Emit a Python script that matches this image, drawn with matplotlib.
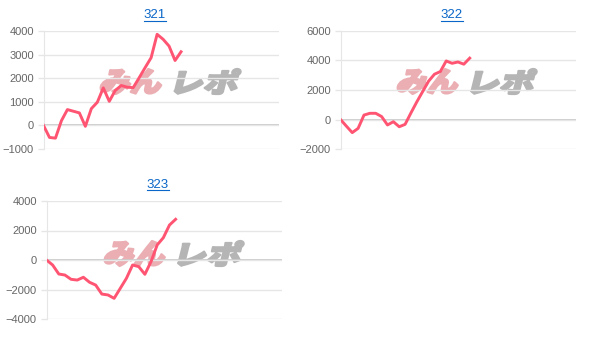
import numpy as np
import matplotlib
matplotlib.use("Agg")
import matplotlib.pyplot as plt
from matplotlib.textpath import TextPath
from matplotlib.font_manager import FontProperties
from matplotlib.patches import PathPatch
from matplotlib.lines import Line2D
from matplotlib.transforms import Affine2D, IdentityTransform

W, H = 603, 344

plt.rcParams['font.family'] = ['Liberation Sans', 'DejaVu Sans']

# chart titles and per-chart values (cumulative difference per data point)
titles = ["321", "322", "323"]

vals_321 = [0, -510, -540, 200, 670, 600, 530, -40, 710, 980, 1590, 1020,
            1480, 1690, 1620, 1600, 2020, 2450, 2870, 3860, 3650, 3360,
            2750, 3120]
vals_322 = [0, -450, -890, -600, 300, 420, 420, 200, -370, -150, -490, -330,
            450, 1200, 1900, 2600, 3070, 3250, 3970, 3810, 3900, 3750, 4160]
vals_323 = [0, -340, -950, -1020, -1310, -1360, -1170, -1510, -1700, -2310,
            -2370, -2600, -1920, -1240, -340, -450, -970, -110, 1020, 1510,
            2370, 2760]

y_ticks = [
    [-1000, 0, 1000, 2000, 3000, 4000],
    [-2000, 0, 2000, 4000, 6000],
    [-4000, -2000, 0, 2000, 4000],
]
x_max = [39.3, 40.1, 38.3]

# pixel boxes: left, right, top, bottom
boxes = [(43.5, 278.5, 31, 149), (340.5, 576, 31, 149), (46.5, 282, 201, 319)]
title_pos = [(155, 15), (452, 15), (158, 185)]
mark_pos = [(98, 68, 243, 95), (395, 68, 539, 95), (102, 240, 246, 267)]

LINE = "#ff5472"
GRID = "#e6e6e6"

fig = plt.figure(figsize=(W / 100, H / 100), dpi=100)

jp = FontProperties(family="Noto Sans CJK JP", weight="black")


def add_mark(x0, ytop, x1, ybot):
    # watermark logo: pink "みん" + gray "レポ", slanted
    pink = TextPath((0, 0), "みん", prop=jp, size=40)
    gray = TextPath((0, 0), "レポ", prop=jp, size=40)
    total_w = x1 - x0
    h = ybot - ytop - 2
    pw = total_w * 0.46
    gw = total_w * 0.47
    for path, col, xs, w in [(pink, "#eaaeb3", x0 + 1, pw), (gray, "#b5b5b5", x1 - gw - 1, gw)]:
        ext = path.get_extents()
        sx = w / ext.width
        sy = h / ext.height
        tr = (Affine2D().translate(-ext.x0, -ext.y0).scale(sx * 0.9, sy)
              .skew_deg(14, 0).translate(xs, H - ybot + 1))
        patch = PathPatch(tr.transform_path(path), facecolor=col, edgecolor=col,
                          lw=1.6, joinstyle="round",
                          transform=IdentityTransform(), zorder=0.5)
        fig.add_artist(patch)


series = [vals_321, vals_322, vals_323]
title_texts = []
for i, vals in enumerate(series):
    l, r, t, b = boxes[i]
    ax = fig.add_axes([l / W, 1 - b / H, (r - l) / W, (b - t) / H])
    ax.patch.set_alpha(0)
    ax.set_zorder(2)
    ax.plot(np.arange(len(vals)), vals, color=LINE, lw=2.1, solid_joinstyle="round",
            zorder=3)
    ax.set_xlim(0, x_max[i])
    ax.set_ylim(y_ticks[i][0], y_ticks[i][-1])
    ax.set_yticks(y_ticks[i])
    ax.set_xticks([])
    ax.grid(axis="y", color=GRID, lw=1)
    ax.axhline(0, color="#c4c4c4", lw=1.2, zorder=1)
    for s in ["top", "right", "bottom"]:
        ax.spines[s].set_visible(False)
    ax.spines["left"].set_color(GRID)
    ax.tick_params(axis="y", length=4, width=1, color=GRID, pad=3,
                   labelsize=8, labelcolor="#666666")
    add_mark(*mark_pos[i])

    tx, ty = title_pos[i]
    tt = fig.text(tx / W, 1 - ty / H, titles[i], ha="center", va="center",
                  fontsize=9.5, color="#0a66c8")
    title_texts.append(tt)

fig.canvas.draw()
for tt in title_texts:
    bb = tt.get_window_extent()
    fig.add_artist(Line2D([bb.x0, bb.x1], [bb.y0 + 0.5, bb.y0 + 0.5], color="#0a66c8",
                          lw=0.8, transform=IdentityTransform()))

fig.savefig("out.png", dpi=100)
